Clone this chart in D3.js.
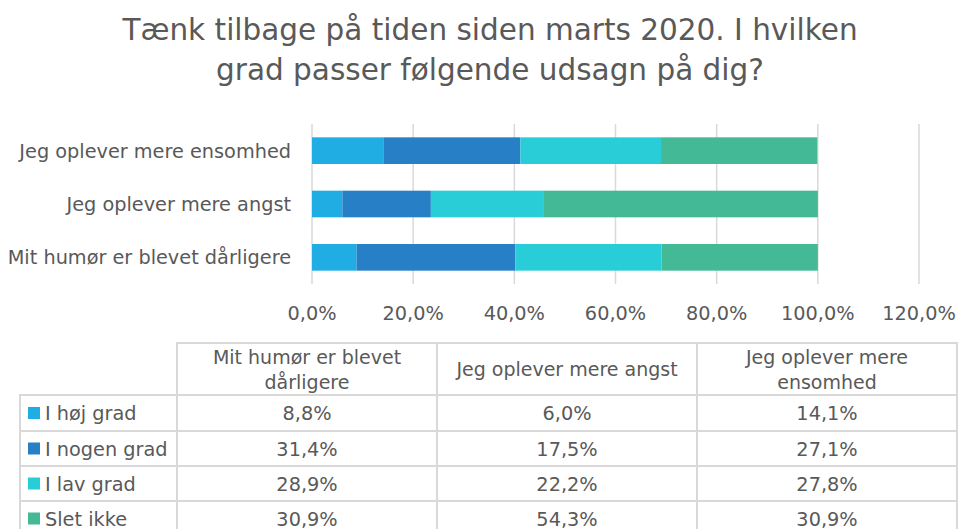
<!DOCTYPE html>
<html>
<head>
<meta charset="utf-8">
<script src="https://cdn.jsdelivr.net/npm/d3@7"></script>
<style>
body { margin:0; background:#fff; }
svg text { font-family: "DejaVu Sans", sans-serif; fill:#595959; }
</style>
</head>
<body>
<div id="chart"></div>
<script>
// data
var categories = ["Mit humør er blevet dårligere", "Jeg oplever mere angst", "Jeg oplever mere ensomhed"];
var headerLabels = [["Mit humør er blevet", "dårligere"], ["Jeg oplever mere angst"], ["Jeg oplever mere", "ensomhed"]];
var seriesNames = ["I høj grad", "I nogen grad", "I lav grad", "Slet ikke"];
var hoej = [8.8, 6.0, 14.1];
var nogen = [31.4, 17.5, 27.1];
var lav = [28.9, 22.2, 27.8];
var slet = [30.9, 54.3, 30.9];
var xTicks = [0, 20, 40, 60, 80, 100, 120];
var colors = ["#1fade3", "#2780c6", "#29cdd7", "#44b996"];

var svgWidth = 961, svgHeight = 529;
var svg = d3.select("#chart").append("svg")
  .attr("width", svgWidth).attr("height", svgHeight);

// title
svg.append("text").attr("x", 490).attr("y", 40).attr("text-anchor", "middle")
  .attr("font-size", 29.5).text("Tænk tilbage på tiden siden marts 2020. I hvilken");
svg.append("text").attr("x", 490).attr("y", 80).attr("text-anchor", "middle")
  .attr("font-size", 29.5).text("grad passer følgende udsagn på dig?");

var rows = categories.map(function(c, i) {
  return {cat: c, v: [hoej[i], nogen[i], lav[i], slet[i]]};
});

var x = d3.scaleLinear().domain([0, 120]).range([312, 919]);
var y = d3.scaleBand().domain(categories.slice().reverse()).range([124, 284])
  .paddingInner(0.5).paddingOuter(0.25);

// gridlines
svg.append("g").selectAll("line").data(xTicks).enter().append("line")
  .attr("x1", d => x(d)).attr("x2", d => x(d))
  .attr("y1", 124).attr("y2", 284)
  .attr("stroke", "#d9d9d9").attr("stroke-width", 1.5);

// bars
var stack = d3.stack().keys([0, 1, 2, 3]).value((d, k) => d.v[k]);
var layers = stack(rows);
svg.append("g").selectAll("g").data(layers).enter().append("g")
  .attr("fill", (d, i) => colors[i])
  .selectAll("rect").data(d => d).enter().append("rect")
  .attr("x", d => x(d[0]))
  .attr("width", d => x(d[1]) - x(d[0]))
  .attr("y", d => y(d.data.cat))
  .attr("height", y.bandwidth());

// x axis labels
var fmt = d => d.toFixed(1).replace(".", ",") + "%";
svg.append("g").selectAll("text").data(xTicks).enter().append("text")
  .attr("x", d => x(d)).attr("y", 320).attr("text-anchor", "middle")
  .attr("font-size", 19.3).text(fmt);

// category labels
svg.append("g").selectAll("text").data(categories).enter().append("text")
  .attr("x", 291).attr("y", d => y(d) + y.bandwidth() / 2 + 7)
  .attr("text-anchor", "end").attr("font-size", 19.3).text(d => d);

// data table
var colX = [20, 177, 437, 697, 957];
var rowY = [343, 395, 431, 466, 501, 536];
var tbl = svg.append("g");
var border = "#d9d9d9";
// header cells
headerLabels.forEach(function(lines, j) {
  tbl.append("rect").attr("x", colX[j + 1]).attr("y", rowY[0])
    .attr("width", colX[j + 2] - colX[j + 1]).attr("height", rowY[1] - rowY[0])
    .attr("fill", "none").attr("stroke", border).attr("stroke-width", 2);
  var cx = (colX[j + 1] + colX[j + 2]) / 2;
  var t = tbl.append("text").attr("text-anchor", "middle").attr("font-size", 19);
  if (lines.length == 1) {
    t.attr("x", cx).attr("y", rowY[0] + 33).text(lines[0]);
  } else {
    t.append("tspan").attr("x", cx).attr("y", rowY[0] + 21).text(lines[0]);
    t.append("tspan").attr("x", cx).attr("y", rowY[0] + 46).text(lines[1]);
  }
});
var series = [hoej, nogen, lav, slet];
series.forEach(function(vals, i) {
  var y0 = rowY[i + 1], h = rowY[i + 2] - rowY[i + 1];
  for (var j = 0; j < 4; j++) {
    tbl.append("rect").attr("x", colX[j]).attr("y", y0)
      .attr("width", colX[j + 1] - colX[j]).attr("height", h)
      .attr("fill", "none").attr("stroke", border).attr("stroke-width", 2);
  }
  tbl.append("rect").attr("x", 28).attr("y", y0 + h / 2 - 6)
    .attr("width", 12).attr("height", 12).attr("fill", colors[i]);
  tbl.append("text").attr("x", 45).attr("y", y0 + h / 2 + 7)
    .attr("font-size", 19.3).text(seriesNames[i]);
  vals.forEach(function(v, j) {
    tbl.append("text").attr("x", (colX[j + 1] + colX[j + 2]) / 2)
      .attr("y", y0 + h / 2 + 7).attr("text-anchor", "middle")
      .attr("font-size", 19.3).text(fmt(v));
  });
});
</script>
</body>
</html>
